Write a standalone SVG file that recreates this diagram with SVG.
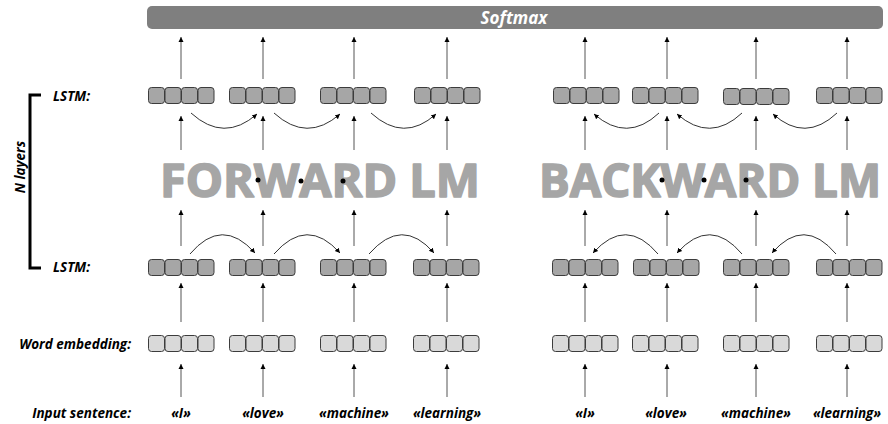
<svg xmlns="http://www.w3.org/2000/svg" xmlns:xlink="http://www.w3.org/1999/xlink" width="888" height="424" viewBox="0 0 888 424">
<style>
.lbl{font-family:"Open Sans","Liberation Sans",sans-serif;font-weight:bold;font-style:italic;font-size:13.5px;fill:#000}
.big{font-family:"Open Sans","Liberation Sans",sans-serif;font-weight:bold;font-size:46px;fill:#a6a6a6;stroke:#a6a6a6;stroke-width:1.6;stroke-linejoin:round}
.ln{stroke:#555;stroke-width:1;fill:none}
.cv{stroke:#333;stroke-width:1;fill:none}
.lstm{fill:#a6a6a6;stroke:#3c3c3c;stroke-width:1}
.emb{fill:#d9d9d9;stroke:#3c3c3c;stroke-width:1}
</style>
<defs>
<marker id="ah" viewBox="0 0 10 10" refX="10" refY="5" markerWidth="5" markerHeight="7" markerUnits="userSpaceOnUse" orient="auto">
<path d="M0,0 L10,5 L0,10 z" fill="#000"/>
</marker>
<g id="cells">
<rect x="0.5" y="0.5" width="16" height="16" rx="3"/>
<rect x="17" y="0.5" width="16" height="16" rx="3"/>
<rect x="33.5" y="0.5" width="16" height="16" rx="3"/>
<rect x="50" y="0.5" width="16" height="16" rx="3"/>
</g>
</defs>
<rect width="888" height="424" fill="#fff"/>

<g id="softmax">
<rect x="147" y="6" width="736" height="23" rx="5" fill="#7f7f7f"/>
<text x="514" y="24" text-anchor="middle" font-family="'Open Sans','Liberation Sans',sans-serif" font-weight="bold" font-style="italic" font-size="17" fill="#fff">Softmax</text>
</g>

<g id="labels">
<text class="lbl" x="53" y="101">LSTM:</text>
<text class="lbl" x="53" y="272">LSTM:</text>
<text class="lbl" x="131" y="349" text-anchor="end">Word embedding:</text>
<text class="lbl" x="131" y="418" text-anchor="end">Input sentence:</text>
<text class="lbl" transform="translate(25,167) rotate(-90)" text-anchor="middle" font-size="14.5">N layers</text>
<path d="M41,95 H30 V268 H41" fill="none" stroke="#000" stroke-width="3"/>
</g>

<g id="forward-title">
<text class="big" x="160" y="197" textLength="320" lengthAdjust="spacingAndGlyphs">FORWARD LM</text>
</g>
<g id="backward-title">
<text class="big" x="539" y="197" textLength="342" lengthAdjust="spacingAndGlyphs">BACKWARD LM</text>
</g>

<g id="dots" fill="#000">
<circle cx="258" cy="180" r="2.5"/><circle cx="301" cy="181" r="2.5"/><circle cx="343" cy="181" r="2.5"/>
<circle cx="662" cy="180" r="2.5"/><circle cx="704" cy="180" r="2.5"/><circle cx="746" cy="180" r="2.5"/>
</g>

<g id="f-lstm2-1" class="lstm"><use xlink:href="#cells" x="148" y="87"/></g>
<g id="f-lstm2-2" class="lstm"><use xlink:href="#cells" x="229" y="87"/></g>
<g id="f-lstm2-3" class="lstm"><use xlink:href="#cells" x="320" y="87"/></g>
<g id="f-lstm2-4" class="lstm"><use xlink:href="#cells" x="414" y="87"/></g>
<g id="b-lstm2-1" class="lstm"><use xlink:href="#cells" x="553" y="87"/></g>
<g id="b-lstm2-2" class="lstm"><use xlink:href="#cells" x="632" y="87"/></g>
<g id="b-lstm2-3" class="lstm"><use xlink:href="#cells" x="723" y="88"/></g>
<g id="b-lstm2-4" class="lstm"><use xlink:href="#cells" x="816" y="87"/></g>
<g id="f-lstm1-1" class="lstm"><use xlink:href="#cells" x="148" y="259"/></g>
<g id="f-lstm1-2" class="lstm"><use xlink:href="#cells" x="229" y="259"/></g>
<g id="f-lstm1-3" class="lstm"><use xlink:href="#cells" x="320" y="259"/></g>
<g id="f-lstm1-4" class="lstm"><use xlink:href="#cells" x="413" y="259"/></g>
<g id="b-lstm1-1" class="lstm"><use xlink:href="#cells" x="552" y="259"/></g>
<g id="b-lstm1-2" class="lstm"><use xlink:href="#cells" x="633" y="259"/></g>
<g id="b-lstm1-3" class="lstm"><use xlink:href="#cells" x="723" y="259"/></g>
<g id="b-lstm1-4" class="lstm"><use xlink:href="#cells" x="816" y="259"/></g>
<g id="f-emb-1" class="emb"><use xlink:href="#cells" x="148" y="335"/></g>
<g id="f-emb-2" class="emb"><use xlink:href="#cells" x="229" y="335"/></g>
<g id="f-emb-3" class="emb"><use xlink:href="#cells" x="320" y="335"/></g>
<g id="f-emb-4" class="emb"><use xlink:href="#cells" x="413" y="335"/></g>
<g id="b-emb-1" class="emb"><use xlink:href="#cells" x="552" y="335"/></g>
<g id="b-emb-2" class="emb"><use xlink:href="#cells" x="632" y="335"/></g>
<g id="b-emb-3" class="emb"><use xlink:href="#cells" x="723" y="335"/></g>
<g id="b-emb-4" class="emb"><use xlink:href="#cells" x="816" y="335"/></g>

<g id="f-words" text-anchor="middle">
<text class="lbl" x="181" y="418">«I»</text>
<text class="lbl" x="263" y="418">«love»</text>
<text class="lbl" x="354" y="418">«machine»</text>
<text class="lbl" x="447" y="418">«learning»</text>
</g>
<g id="b-words" text-anchor="middle">
<text class="lbl" x="585" y="418">«I»</text>
<text class="lbl" x="666" y="418">«love»</text>
<text class="lbl" x="756" y="418">«machine»</text>
<text class="lbl" x="847" y="418">«learning»</text>
</g>

<g id="connectors" marker-end="url(#ah)">
<path class="ln" d="M181,79 V37"/><path class="ln" d="M263,79 V37"/><path class="ln" d="M354,79 V37"/><path class="ln" d="M447,79 V37"/>
<path class="ln" d="M585,79 V37"/><path class="ln" d="M667,79 V37"/><path class="ln" d="M756,79 V37"/><path class="ln" d="M847,79 V37"/>
<path class="ln" d="M181,150 V116"/><path class="ln" d="M263,150 V116"/><path class="ln" d="M354,150 V116"/><path class="ln" d="M447,150 V116"/>
<path class="ln" d="M585,150 V116"/><path class="ln" d="M667,150 V116"/><path class="ln" d="M756,150 V116"/><path class="ln" d="M847,150 V116"/>
<path class="ln" d="M181,246 V210"/><path class="ln" d="M263,246 V210"/><path class="ln" d="M354,246 V210"/><path class="ln" d="M447,246 V210"/>
<path class="ln" d="M585,246 V210"/><path class="ln" d="M667,246 V210"/><path class="ln" d="M756,246 V210"/><path class="ln" d="M847,246 V210"/>
<path class="ln" d="M181,322 V283"/><path class="ln" d="M263,322 V283"/><path class="ln" d="M354,322 V283"/><path class="ln" d="M447,322 V283"/>
<path class="ln" d="M585,322 V283"/><path class="ln" d="M667,322 V283"/><path class="ln" d="M756,322 V283"/><path class="ln" d="M847,322 V283"/>
<path class="ln" d="M181,397 V364"/><path class="ln" d="M263,397 V364"/><path class="ln" d="M354,397 V364"/><path class="ln" d="M447,397 V364"/>
<path class="ln" d="M585,397 V364"/><path class="ln" d="M667,397 V364"/><path class="ln" d="M756,397 V364"/><path class="ln" d="M847,397 V364"/>
<path class="cv" d="M191,113 Q224,143 257,114"/>
<path class="cv" d="M274,113 Q307,143 340,114"/>
<path class="cv" d="M371,113 Q404,143 436,114"/>
<path class="cv" d="M659,113 Q627,143 594,114"/>
<path class="cv" d="M742,113 Q710,143 677,114"/>
<path class="cv" d="M837,113 Q805,143 773,114"/>
<path class="cv" d="M190,254 Q222,216 255,253"/>
<path class="cv" d="M274,254 Q307,216 340,253"/>
<path class="cv" d="M369,254 Q402,216 434,253"/>
<path class="cv" d="M658,254 Q626,216 593,253"/>
<path class="cv" d="M742,254 Q710,216 677,253"/>
<path class="cv" d="M836,254 Q804,216 772,253"/>
</g>
</svg>
